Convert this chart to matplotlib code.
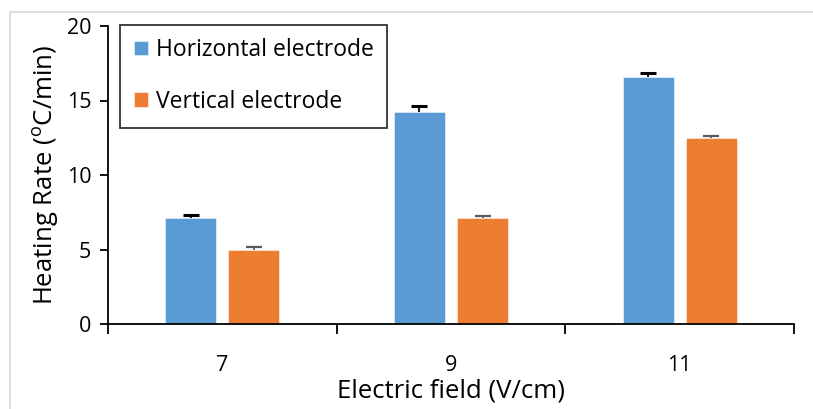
import numpy as np
import matplotlib.pyplot as plt
from matplotlib.patches import Rectangle

plt.rcParams['font.family'] = ['Open Sans', 'DejaVu Sans']

fields = ['7', '9', '11']
horizontal = [7.1, 14.25, 16.6]
horizontal_err = [0.2, 0.4, 0.25]
vertical = [4.97, 7.1, 12.47]
vertical_err = [0.2, 0.12, 0.15]

fig = plt.figure(figsize=(8.13, 4.09), dpi=100)
fig.patches.append(Rectangle((10 / 813, -0.1), 1.0, 1 - 12 / 409 + 0.1,
                             transform=fig.transFigure, fill=False,
                             edgecolor='#d9d9d9', linewidth=1.2))
ax = fig.add_axes([108 / 813, 1 - 324 / 409, (794 - 108) / 813, (324 - 26) / 409])

x = np.arange(len(fields))
w = 0.223
off = 0.138
ax.bar(x - off, horizontal, w, color='#5b9bd5', edgecolor='#ddebf7', linewidth=0.6,
       label='Horizontal electrode', zorder=2)
ax.bar(x + off, vertical, w, color='#ed7d31', edgecolor='#fbe5d6', linewidth=0.6,
       label='Vertical electrode', zorder=2)

# plus-only error bars, cap on top only
for xs, vals, errs, c, cw in [(x - off, horizontal, horizontal_err, 'black', 2.2),
                              (x + off, vertical, vertical_err, '#595959', 1.6)]:
    ax.errorbar(xs, vals, yerr=[np.zeros(3), errs], fmt='none', ecolor=c,
                elinewidth=1.3, capsize=0, zorder=3)
    ax.plot(xs, np.array(vals) + np.array(errs), ls='none', marker='_',
            ms=11, mew=cw, color=c, zorder=3)

ax.set_xlim(-0.5, 2.5)
ax.set_ylim(0, 20)
ax.set_yticks([0, 5, 10, 15, 20])
ax.set_xticks(x)
ax.set_xticklabels(fields)
ax.set_xticks([-0.5, 0.5, 1.5, 2.5], minor=True)
ax.tick_params(axis='x', which='major', length=0, pad=22, labelsize=15.5)
ax.tick_params(axis='x', which='minor', length=7, width=1.3, direction='out')
ax.tick_params(axis='y', length=6, width=1.3, direction='out', labelsize=15.5, pad=6)
for s in ['top', 'right']:
    ax.spines[s].set_visible(False)
ax.spines['left'].set_linewidth(1.3)
ax.spines['bottom'].set_linewidth(1.3)

ax.set_xlabel('Electric field (V/cm)', fontsize=18.5, labelpad=2)
ax.set_ylabel('Heating Rate ($^{\\mathregular{o}}$C/min)', fontsize=18.5, labelpad=4)

leg = ax.legend(loc='upper left', bbox_to_anchor=(12 / 686, 1.005), fontsize=16.5,
                frameon=True, fancybox=False, edgecolor='black', handlelength=0.6,
                handleheight=0.6, handletextpad=0.35, labelspacing=1.2,
                borderpad=0.6, borderaxespad=0)
leg.get_frame().set_linewidth(1.3)

fig.savefig('out.png', dpi=100)
